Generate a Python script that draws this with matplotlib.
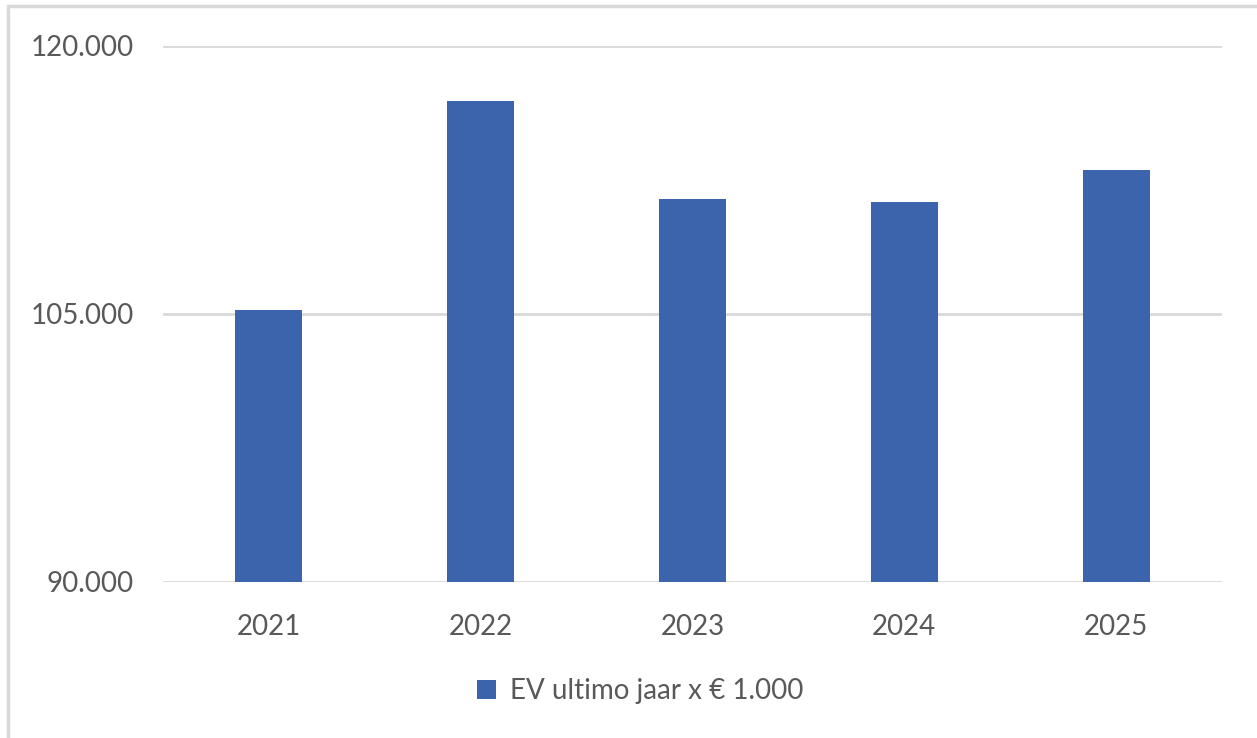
import matplotlib
matplotlib.use("Agg")
import matplotlib.pyplot as plt
from matplotlib.patches import Rectangle
from matplotlib.ticker import FuncFormatter

years = ["2021", "2022", "2023", "2024", "2025"]
ev_values = [105250, 116920, 111440, 111270, 113060]
y_ticks = [90000, 105000, 120000]
series_label = "EV ultimo jaar x € 1.000"

plt.rcParams['font.family'] = ['Lato', 'DejaVu Sans']
text_color = "#595959"
bar_color = "#3B64AD"
grid_color = "#D9D9D9"

W, H = 1257, 738
fig = plt.figure(figsize=(W/100, H/100), dpi=100)
fig.patch.set_facecolor("white")

# chart area border
fig.patches.append(Rectangle((8/W, -0.1), 1.2, 1 - 6/H + 0.1, transform=fig.transFigure,
                             fill=False, edgecolor=grid_color, linewidth=2.5))

ax = fig.add_axes([163/W, 1 - 582/H, (1222-163)/W, (582-46)/H])
x = list(range(len(years)))
ax.bar(x, ev_values, width=0.317, color=bar_color, zorder=3, label=series_label)
ax.set_xlim(-0.5, len(years) - 0.5)
ax.set_ylim(y_ticks[0], y_ticks[-1])
ax.set_yticks(y_ticks)
ax.yaxis.set_major_formatter(FuncFormatter(lambda v, p: f"{int(v):,}".replace(",", ".")))
ax.set_xticks(x)
ax.set_xticklabels(years)
ax.tick_params(axis='both', length=0, labelsize=20, colors=text_color)
ax.tick_params(axis='y', pad=21)
ax.tick_params(axis='x', pad=23)
for s in ax.spines.values():
    s.set_visible(False)
ax.grid(axis='y', color=grid_color, linewidth=2, zorder=0)
ax.set_axisbelow(True)

leg = fig.legend(loc='center', bbox_to_anchor=(640/W, 1 - 691/H), frameon=False,
                 fontsize=20, labelcolor=text_color, handlelength=0.7, handleheight=0.7,
                 handletextpad=0.5)

fig.savefig("out.png", dpi=100, facecolor="white")
